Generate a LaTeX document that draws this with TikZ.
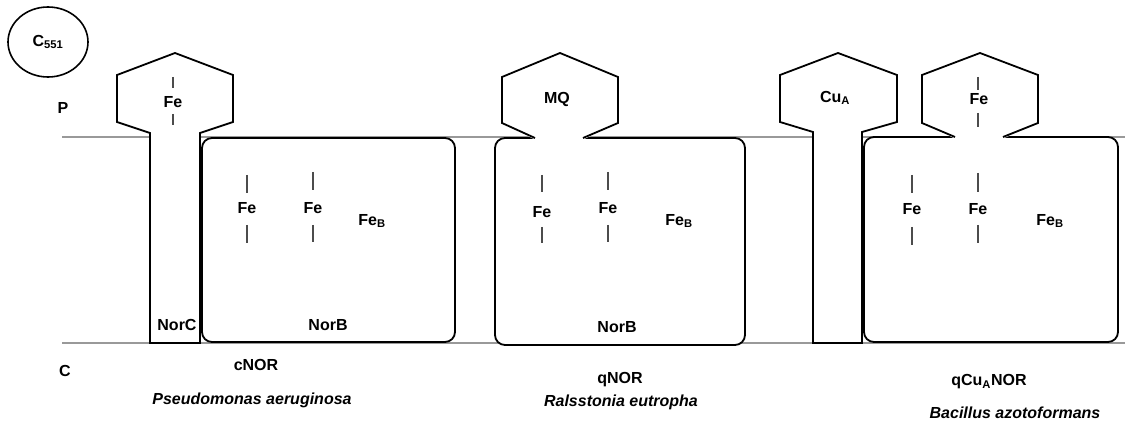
\documentclass[tikz,border=0pt]{standalone}
\usepackage{fontspec}
\setmainfont{Liberation Sans}
\usetikzlibrary{shapes.geometric}
\begin{document}
\begin{tikzpicture}[x=1pt,y=-1pt,
  membrane/.style={draw=black!40, line width=1.4pt},
  outline/.style={draw=black, line width=1.8pt, fill=white},
  edge/.style={draw=black, line width=1.8pt},
  hemtick/.style={draw=black!70, line width=1.8pt},
  smalltick/.style={draw=black!70, line width=1.2pt},
  lbl/.style={font=\fontsize{16}{18}\selectfont\bfseries, inner sep=0pt},
  org/.style={font=\fontsize{16}{18}\selectfont\bfseries\itshape, inner sep=0pt}]
\useasboundingbox (0,0) rectangle (1125,430);

% membrane boundaries
\draw[membrane] (62,137) -- (1125,137);
\draw[membrane] (62,343) -- (1125,343);

% cytochrome c551
\node[draw, ellipse, line width=1.6pt, minimum width=80pt, minimum height=70pt, inner sep=0pt, lbl] (c551) at (48,42) {C\textsubscript{551}};
\node[lbl] (sideP) at (63,108) {P};
\node[lbl] (sideC) at (65,371) {C};

% ---- cNOR: NorC (haem c head + helix) and NorB ----
\draw[outline] (150,343) -- (150,133) -- (117,122) -- (117,75) -- (175,53)
  -- (233,75) -- (233,122) -- (200,133) -- (200,343) -- cycle;
\draw[outline, rounded corners=10pt] (202,138) rectangle (455,342);
\draw[smalltick] (173,77) -- (173,88);
\draw[smalltick] (173,114) -- (173,125);
\node[lbl] (cFeC) at (173,102) {Fe};
\draw[hemtick] (247,175) -- (247,193);
\draw[hemtick] (247,225) -- (247,243);
\node[lbl] (cFe1) at (247,208) {Fe};
\draw[hemtick] (313,172) -- (313,190);
\draw[hemtick] (313,225) -- (313,242);
\node[lbl] (cFe2) at (313,208) {Fe};
\node[lbl] (cFeB) at (372,221) {Fe\textsubscript{B}};
\node[lbl] (norC) at (177,325) {NorC};
\node[lbl] (cNorB) at (328,325) {NorB};
\node[lbl] (cnor) at (256,365) {cNOR};
\node[org] (pae) at (252,400) {Pseudomonas aeruginosa};

% ---- qNOR: NorB with menaquinol-binding head ----
\draw[outline, rounded corners=10pt] (495,138) rectangle (745,345);
\fill[white] (535,139.6) -- (502,123) -- (502,77) -- (560,53) -- (618,77)
  -- (618,123) -- (583,139.6) -- cycle;
\draw[edge] (535,138) -- (502,123) -- (502,77) -- (560,53) -- (618,77)
  -- (618,123) -- (583,138);
\node[lbl] (mq) at (557,99) {MQ};
\draw[hemtick] (542,175) -- (542,192);
\draw[hemtick] (542,227) -- (542,243);
\node[lbl] (qFe1) at (542,212) {Fe};
\draw[hemtick] (608,172) -- (608,190);
\draw[hemtick] (608,225) -- (608,242);
\node[lbl] (qFe2) at (608,208) {Fe};
\node[lbl] (qFeB) at (679,221) {Fe\textsubscript{B}};
\node[lbl] (qNorB) at (617,327) {NorB};
\node[lbl] (qnor) at (620,380) {qNOR};
\node[org] (reu) at (621,402) {Ralsstonia eutropha};

% ---- qCuANOR: CuA subunit and haem-bearing NorB ----
\draw[outline] (813,343) -- (813,132) -- (780,122) -- (780,75) -- (838,53)
  -- (897,75) -- (897,122) -- (862,132) -- (862,343) -- cycle;
\node[lbl] (cua) at (835,98) {Cu\textsubscript{A}};
\draw[outline, rounded corners=10pt] (864,137) rectangle (1118,342);
\fill[white] (955,138.6) -- (922,123) -- (922,75) -- (980,53) -- (1038,75)
  -- (1038,123) -- (1003,138.6) -- cycle;
\draw[edge] (955,137) -- (922,123) -- (922,75) -- (980,53) -- (1038,75)
  -- (1038,123) -- (1003,137);
\draw[smalltick] (978,77) -- (978,90);
\draw[smalltick] (978,113) -- (978,127);
\node[lbl] (bFeH) at (979,99) {Fe};
\draw[hemtick] (912,175) -- (912,193);
\draw[hemtick] (912,227) -- (912,245);
\node[lbl] (bFe1) at (912,209) {Fe};
\draw[hemtick] (978,173) -- (978,192);
\draw[hemtick] (978,225) -- (978,243);
\node[lbl] (bFe2) at (978,209) {Fe};
\node[lbl] (bFeB) at (1050,221) {Fe\textsubscript{B}};
\node[lbl] (qcuanor) at (989,382) {qCu\textsubscript{A}NOR};
\node[org] (baz) at (1015,413) {Bacillus azotoformans};
\end{tikzpicture}
\end{document}
